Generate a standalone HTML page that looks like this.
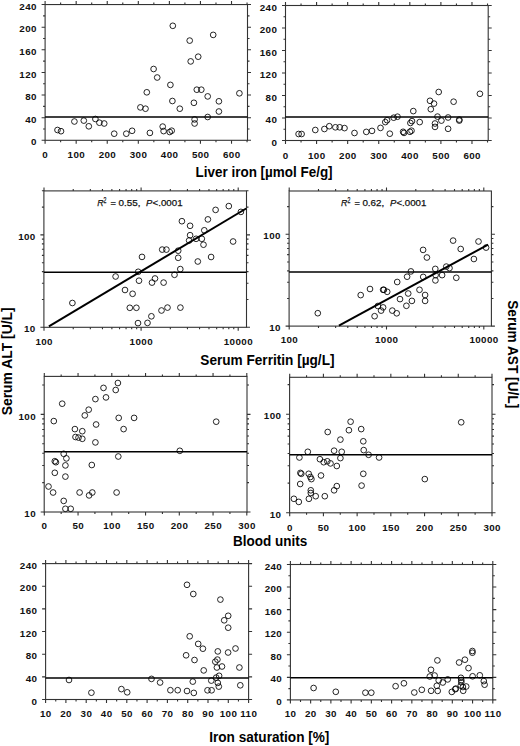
<!DOCTYPE html>
<html><head><meta charset="utf-8"><title>Serum ALT/AST scatter plots</title>
<style>html,body{margin:0;padding:0;background:#fff;}svg{display:block;}text{font-family:"Liberation Sans",sans-serif;}.tl{font-weight:bold;font-size:9.80px;letter-spacing:0.40px;fill:#111;}.tt{font-weight:bold;font-size:14px;fill:#000;}.rr text{font-size:9.8px;fill:#111;stroke:#111;stroke-width:0.25px;}</style></head><body>
<svg width="520" height="746" viewBox="0 0 520 746">
<rect width="520" height="746" fill="#fff"/>
<g><rect x="45.1" y="4.55" width="202.4" height="135.75" fill="none" stroke="#333" stroke-width="1.1"/><path d="M45.1 140.3v3.5M45.1 4.55v-3.5M76.17 140.3v3.5M76.17 4.55v-3.5M107.24 140.3v3.5M107.24 4.55v-3.5M138.31 140.3v3.5M138.31 4.55v-3.5M169.38 140.3v3.5M169.38 4.55v-3.5M200.45 140.3v3.5M200.45 4.55v-3.5M231.52 140.3v3.5M231.52 4.55v-3.5M60.63 140.3v2M60.63 4.55v-2M91.7 140.3v2M91.7 4.55v-2M122.78 140.3v2M122.78 4.55v-2M153.84 140.3v2M153.84 4.55v-2M184.91 140.3v2M184.91 4.55v-2M215.98 140.3v2M215.98 4.55v-2M247.05 140.3v2M247.05 4.55v-2M45.1 140.3h-3.5M247.5 140.3h3.5M45.1 117.68h-3.5M247.5 117.68h3.5M45.1 95.05h-3.5M247.5 95.05h3.5M45.1 72.43h-3.5M247.5 72.43h3.5M45.1 49.8h-3.5M247.5 49.8h3.5M45.1 27.18h-3.5M247.5 27.18h3.5M45.1 4.56h-3.5M247.5 4.56h3.5M45.1 128.99h-2M247.5 128.99h2M45.1 106.36h-2M247.5 106.36h2M45.1 83.74h-2M247.5 83.74h2M45.1 61.12h-2M247.5 61.12h2M45.1 38.49h-2M247.5 38.49h2M45.1 15.87h-2M247.5 15.87h2" stroke="#333" stroke-width="1.1" fill="none"/><text class="tl" x="45.3" y="154.4" text-anchor="middle" dominant-baseline="central">0</text><text class="tl" x="76.37" y="154.4" text-anchor="middle" dominant-baseline="central">100</text><text class="tl" x="107.44" y="154.4" text-anchor="middle" dominant-baseline="central">200</text><text class="tl" x="138.51" y="154.4" text-anchor="middle" dominant-baseline="central">300</text><text class="tl" x="169.58" y="154.4" text-anchor="middle" dominant-baseline="central">400</text><text class="tl" x="200.65" y="154.4" text-anchor="middle" dominant-baseline="central">500</text><text class="tl" x="231.72" y="154.4" text-anchor="middle" dominant-baseline="central">600</text><text class="tl" x="36.9" y="141.9" text-anchor="end" dominant-baseline="central">0</text><text class="tl" x="36.9" y="119.28" text-anchor="end" dominant-baseline="central">40</text><text class="tl" x="36.9" y="96.65" text-anchor="end" dominant-baseline="central">80</text><text class="tl" x="36.9" y="74.03" text-anchor="end" dominant-baseline="central">120</text><text class="tl" x="36.9" y="51.4" text-anchor="end" dominant-baseline="central">160</text><text class="tl" x="36.9" y="28.78" text-anchor="end" dominant-baseline="central">200</text><text class="tl" x="36.9" y="6.16" text-anchor="end" dominant-baseline="central">240</text><path d="M45.1 117H247.5" stroke="#000" stroke-width="1.5"/><g fill="none" stroke="#000" stroke-width="0.85"><circle cx="57.5" cy="130" r="2.85"/><circle cx="61" cy="131.2" r="2.85"/><circle cx="74.4" cy="121.5" r="2.85"/><circle cx="83.8" cy="120.6" r="2.85"/><circle cx="88.8" cy="126.3" r="2.85"/><circle cx="95.4" cy="119" r="2.85"/><circle cx="99.4" cy="122.7" r="2.85"/><circle cx="104.2" cy="123.5" r="2.85"/><circle cx="114.2" cy="133.7" r="2.85"/><circle cx="126.3" cy="133.7" r="2.85"/><circle cx="132.1" cy="130.8" r="2.85"/><circle cx="140.4" cy="107.4" r="2.85"/><circle cx="145.5" cy="108.7" r="2.85"/><circle cx="146.8" cy="92.3" r="2.85"/><circle cx="149.9" cy="132.9" r="2.85"/><circle cx="153.6" cy="69" r="2.85"/><circle cx="157.2" cy="77.5" r="2.85"/><circle cx="170.4" cy="84.9" r="2.85"/><circle cx="172.4" cy="101" r="2.85"/><circle cx="162.7" cy="126.6" r="2.85"/><circle cx="163.6" cy="131.1" r="2.85"/><circle cx="169.7" cy="132" r="2.85"/><circle cx="171.7" cy="130.7" r="2.85"/><circle cx="179.8" cy="108.7" r="2.85"/><circle cx="193.9" cy="102.8" r="2.85"/><circle cx="194.6" cy="119.4" r="2.85"/><circle cx="194.6" cy="123.5" r="2.85"/><circle cx="196.8" cy="89.7" r="2.85"/><circle cx="201.3" cy="89.7" r="2.85"/><circle cx="207.7" cy="96.4" r="2.85"/><circle cx="207.7" cy="117" r="2.85"/><circle cx="218.9" cy="101.3" r="2.85"/><circle cx="218.9" cy="111.5" r="2.85"/><circle cx="239.4" cy="93.3" r="2.85"/><circle cx="172.8" cy="25.8" r="2.85"/><circle cx="213.2" cy="34.9" r="2.85"/><circle cx="189.7" cy="40.6" r="2.85"/><circle cx="198.2" cy="56.7" r="2.85"/><circle cx="190.7" cy="61.4" r="2.85"/></g></g>
<g><rect x="285.5" y="5.5" width="202.7" height="135" fill="none" stroke="#333" stroke-width="1.1"/><path d="M285.5 140.5v3.5M285.5 5.5v-3.5M316.58 140.5v3.5M316.58 5.5v-3.5M347.66 140.5v3.5M347.66 5.5v-3.5M378.74 140.5v3.5M378.74 5.5v-3.5M409.82 140.5v3.5M409.82 5.5v-3.5M440.9 140.5v3.5M440.9 5.5v-3.5M471.98 140.5v3.5M471.98 5.5v-3.5M301.04 140.5v2M301.04 5.5v-2M332.12 140.5v2M332.12 5.5v-2M363.2 140.5v2M363.2 5.5v-2M394.28 140.5v2M394.28 5.5v-2M425.36 140.5v2M425.36 5.5v-2M456.44 140.5v2M456.44 5.5v-2M487.52 140.5v2M487.52 5.5v-2M285.5 140.5h-3.5M488.2 140.5h3.5M285.5 118h-3.5M488.2 118h3.5M285.5 95.5h-3.5M488.2 95.5h3.5M285.5 73h-3.5M488.2 73h3.5M285.5 50.5h-3.5M488.2 50.5h3.5M285.5 28h-3.5M488.2 28h3.5M285.5 5.5h-3.5M488.2 5.5h3.5M285.5 129.25h-2M488.2 129.25h2M285.5 106.75h-2M488.2 106.75h2M285.5 84.25h-2M488.2 84.25h2M285.5 61.75h-2M488.2 61.75h2M285.5 39.25h-2M488.2 39.25h2M285.5 16.75h-2M488.2 16.75h2" stroke="#333" stroke-width="1.1" fill="none"/><text class="tl" x="285.7" y="155.3" text-anchor="middle" dominant-baseline="central">0</text><text class="tl" x="316.78" y="155.3" text-anchor="middle" dominant-baseline="central">100</text><text class="tl" x="347.86" y="155.3" text-anchor="middle" dominant-baseline="central">200</text><text class="tl" x="378.94" y="155.3" text-anchor="middle" dominant-baseline="central">300</text><text class="tl" x="410.02" y="155.3" text-anchor="middle" dominant-baseline="central">400</text><text class="tl" x="441.1" y="155.3" text-anchor="middle" dominant-baseline="central">500</text><text class="tl" x="472.18" y="155.3" text-anchor="middle" dominant-baseline="central">600</text><text class="tl" x="277.3" y="142.1" text-anchor="end" dominant-baseline="central">0</text><text class="tl" x="277.3" y="119.6" text-anchor="end" dominant-baseline="central">40</text><text class="tl" x="277.3" y="97.1" text-anchor="end" dominant-baseline="central">80</text><text class="tl" x="277.3" y="74.6" text-anchor="end" dominant-baseline="central">120</text><text class="tl" x="277.3" y="52.1" text-anchor="end" dominant-baseline="central">160</text><text class="tl" x="277.3" y="29.6" text-anchor="end" dominant-baseline="central">200</text><text class="tl" x="277.3" y="7.1" text-anchor="end" dominant-baseline="central">240</text><path d="M285.5 116.9H488.2" stroke="#000" stroke-width="1.5"/><g fill="none" stroke="#000" stroke-width="0.85"><circle cx="298.6" cy="134" r="2.85"/><circle cx="301.6" cy="134" r="2.85"/><circle cx="315.3" cy="130" r="2.85"/><circle cx="324.4" cy="129" r="2.85"/><circle cx="329.3" cy="126.2" r="2.85"/><circle cx="335.4" cy="127.3" r="2.85"/><circle cx="339.7" cy="127.3" r="2.85"/><circle cx="344.5" cy="128.1" r="2.85"/><circle cx="354.5" cy="133" r="2.85"/><circle cx="366.3" cy="131.9" r="2.85"/><circle cx="372" cy="130.9" r="2.85"/><circle cx="380.5" cy="127.9" r="2.85"/><circle cx="385.3" cy="122.1" r="2.85"/><circle cx="387.1" cy="120.2" r="2.85"/><circle cx="389.8" cy="133.7" r="2.85"/><circle cx="393.7" cy="117.7" r="2.85"/><circle cx="397.5" cy="116.7" r="2.85"/><circle cx="403.1" cy="131.8" r="2.85"/><circle cx="404" cy="132.9" r="2.85"/><circle cx="409.9" cy="131.8" r="2.85"/><circle cx="411.5" cy="130.7" r="2.85"/><circle cx="410.4" cy="123" r="2.85"/><circle cx="412" cy="121.1" r="2.85"/><circle cx="413.3" cy="111.1" r="2.85"/><circle cx="419.7" cy="122.1" r="2.85"/><circle cx="430" cy="100.8" r="2.85"/><circle cx="434" cy="103.6" r="2.85"/><circle cx="430.8" cy="109.2" r="2.85"/><circle cx="438.7" cy="92" r="2.85"/><circle cx="437.5" cy="116.6" r="2.85"/><circle cx="435" cy="123.5" r="2.85"/><circle cx="435" cy="126.9" r="2.85"/><circle cx="441.4" cy="120.6" r="2.85"/><circle cx="448.1" cy="117.5" r="2.85"/><circle cx="448.1" cy="128.8" r="2.85"/><circle cx="453.6" cy="101.7" r="2.85"/><circle cx="459.3" cy="119.6" r="2.85"/><circle cx="459.3" cy="120.6" r="2.85"/><circle cx="479.9" cy="93.8" r="2.85"/></g></g>
<g><rect x="43.9" y="190.9" width="202.6" height="136.4" fill="none" stroke="#333" stroke-width="1.1"/><path d="M44 327.3v3.5M44 190.9v-3.5M141.1 327.3v3.5M141.1 190.9v-3.5M238.2 327.3v3.5M238.2 190.9v-3.5M73.23 327.3v2M73.23 190.9v-2M90.33 327.3v2M90.33 190.9v-2M102.46 327.3v2M102.46 190.9v-2M111.87 327.3v2M111.87 190.9v-2M119.56 327.3v2M119.56 190.9v-2M126.06 327.3v2M126.06 190.9v-2M131.69 327.3v2M131.69 190.9v-2M136.66 327.3v2M136.66 190.9v-2M170.33 327.3v2M170.33 190.9v-2M187.43 327.3v2M187.43 190.9v-2M199.56 327.3v2M199.56 190.9v-2M208.97 327.3v2M208.97 190.9v-2M216.66 327.3v2M216.66 190.9v-2M223.16 327.3v2M223.16 190.9v-2M228.79 327.3v2M228.79 190.9v-2M233.76 327.3v2M233.76 190.9v-2M43.9 327.3h-3.5M246.5 327.3h3.5M43.9 234.9h-3.5M246.5 234.9h3.5M43.9 299.48h-2M246.5 299.48h2M43.9 283.21h-2M246.5 283.21h2M43.9 271.67h-2M246.5 271.67h2M43.9 262.72h-2M246.5 262.72h2M43.9 255.4h-2M246.5 255.4h2M43.9 249.21h-2M246.5 249.21h2M43.9 243.85h-2M246.5 243.85h2M43.9 239.13h-2M246.5 239.13h2M43.9 207.08h-2M246.5 207.08h2M43.9 190.81h-2M246.5 190.81h2" stroke="#333" stroke-width="1.1" fill="none"/><text class="tl" x="44.2" y="341.55" text-anchor="middle" dominant-baseline="central">100</text><text class="tl" x="141.3" y="341.55" text-anchor="middle" dominant-baseline="central">1000</text><text class="tl" x="238.4" y="341.55" text-anchor="middle" dominant-baseline="central">10000</text><text class="tl" x="35.7" y="328.9" text-anchor="end" dominant-baseline="central">10</text><text class="tl" x="35.7" y="236.5" text-anchor="end" dominant-baseline="central">100</text><path d="M43.9 272.2H246.5" stroke="#000" stroke-width="1.5"/><path d="M48.9 326.4L246.2 208.5" stroke="#000" stroke-width="2.0"/><g fill="none" stroke="#000" stroke-width="0.85"><circle cx="142" cy="256.9" r="2.85"/><circle cx="215.6" cy="209.9" r="2.85"/><circle cx="228.8" cy="206.1" r="2.85"/><circle cx="240.9" cy="211.9" r="2.85"/><circle cx="181.9" cy="221.2" r="2.85"/><circle cx="207.9" cy="219.4" r="2.85"/><circle cx="190.1" cy="225.8" r="2.85"/><circle cx="204.3" cy="230.3" r="2.85"/><circle cx="190.1" cy="235.2" r="2.85"/><circle cx="189.1" cy="240.5" r="2.85"/><circle cx="196.1" cy="238.8" r="2.85"/><circle cx="201.8" cy="238.8" r="2.85"/><circle cx="203.5" cy="244.7" r="2.85"/><circle cx="233.1" cy="241.5" r="2.85"/><circle cx="162.2" cy="249.6" r="2.85"/><circle cx="166.4" cy="249.6" r="2.85"/><circle cx="178.2" cy="250.7" r="2.85"/><circle cx="178.2" cy="257.8" r="2.85"/><circle cx="211.1" cy="257" r="2.85"/><circle cx="197.8" cy="261.5" r="2.85"/><circle cx="180.3" cy="269.1" r="2.85"/><circle cx="174.5" cy="274.8" r="2.85"/><circle cx="155" cy="278.5" r="2.85"/><circle cx="152" cy="282.6" r="2.85"/><circle cx="163.6" cy="282.6" r="2.85"/><circle cx="139" cy="280.7" r="2.85"/><circle cx="138.2" cy="271.8" r="2.85"/><circle cx="115.6" cy="276.5" r="2.85"/><circle cx="125" cy="290" r="2.85"/><circle cx="132.6" cy="293.8" r="2.85"/><circle cx="72.4" cy="303" r="2.85"/><circle cx="129.8" cy="307.8" r="2.85"/><circle cx="136.4" cy="307.8" r="2.85"/><circle cx="138" cy="323.1" r="2.85"/><circle cx="147.5" cy="322.9" r="2.85"/><circle cx="151.4" cy="316.3" r="2.85"/><circle cx="161.5" cy="310.5" r="2.85"/><circle cx="167.5" cy="307.6" r="2.85"/><circle cx="180.4" cy="307.6" r="2.85"/></g></g>
<g><rect x="289.1" y="191" width="202.3" height="135.1" fill="none" stroke="#333" stroke-width="1.1"/><path d="M289.2 326.1v3.5M289.2 191v-3.5M386.5 326.1v3.5M386.5 191v-3.5M483.8 326.1v3.5M483.8 191v-3.5M318.49 326.1v2M318.49 191v-2M335.62 326.1v2M335.62 191v-2M347.78 326.1v2M347.78 191v-2M357.21 326.1v2M357.21 191v-2M364.91 326.1v2M364.91 191v-2M371.43 326.1v2M371.43 191v-2M377.07 326.1v2M377.07 191v-2M382.05 326.1v2M382.05 191v-2M415.79 326.1v2M415.79 191v-2M432.92 326.1v2M432.92 191v-2M445.08 326.1v2M445.08 191v-2M454.51 326.1v2M454.51 191v-2M462.21 326.1v2M462.21 191v-2M468.73 326.1v2M468.73 191v-2M474.37 326.1v2M474.37 191v-2M479.35 326.1v2M479.35 191v-2M289.1 326.1h-3.5M491.4 326.1h3.5M289.1 234.3h-3.5M491.4 234.3h3.5M289.1 298.47h-2M491.4 298.47h2M289.1 282.3h-2M491.4 282.3h2M289.1 270.83h-2M491.4 270.83h2M289.1 261.93h-2M491.4 261.93h2M289.1 254.67h-2M491.4 254.67h2M289.1 248.52h-2M491.4 248.52h2M289.1 243.2h-2M491.4 243.2h2M289.1 238.5h-2M491.4 238.5h2M289.1 206.67h-2M491.4 206.67h2" stroke="#333" stroke-width="1.1" fill="none"/><text class="tl" x="289.4" y="339.9" text-anchor="middle" dominant-baseline="central">100</text><text class="tl" x="386.7" y="339.9" text-anchor="middle" dominant-baseline="central">1000</text><text class="tl" x="484" y="339.9" text-anchor="middle" dominant-baseline="central">10000</text><text class="tl" x="280.9" y="327.7" text-anchor="end" dominant-baseline="central">10</text><text class="tl" x="280.9" y="235.9" text-anchor="end" dominant-baseline="central">100</text><path d="M289.1 271.9H491.4" stroke="#000" stroke-width="1.5"/><path d="M338.9 325.7L488.1 244.6" stroke="#000" stroke-width="2.0"/><g fill="none" stroke="#000" stroke-width="0.85"><circle cx="317.8" cy="313.2" r="2.85"/><circle cx="360.7" cy="295.1" r="2.85"/><circle cx="370" cy="289" r="2.85"/><circle cx="383.1" cy="289.8" r="2.85"/><circle cx="383.9" cy="289.8" r="2.85"/><circle cx="387.2" cy="291.8" r="2.85"/><circle cx="377.9" cy="306" r="2.85"/><circle cx="383.1" cy="307.4" r="2.85"/><circle cx="381.1" cy="310.6" r="2.85"/><circle cx="374.6" cy="316.2" r="2.85"/><circle cx="392.3" cy="310.6" r="2.85"/><circle cx="396.7" cy="313.3" r="2.85"/><circle cx="426.9" cy="257.5" r="2.85"/><circle cx="473.9" cy="259" r="2.85"/><circle cx="410.9" cy="271.4" r="2.85"/><circle cx="407.1" cy="276.7" r="2.85"/><circle cx="423.2" cy="276.9" r="2.85"/><circle cx="435.3" cy="268.9" r="2.85"/><circle cx="435.6" cy="275.1" r="2.85"/><circle cx="435.4" cy="280.4" r="2.85"/><circle cx="442.1" cy="275.1" r="2.85"/><circle cx="446.3" cy="266.6" r="2.85"/><circle cx="449.5" cy="268.1" r="2.85"/><circle cx="456.3" cy="277.8" r="2.85"/><circle cx="397.2" cy="282" r="2.85"/><circle cx="419.5" cy="289.8" r="2.85"/><circle cx="408.2" cy="293.5" r="2.85"/><circle cx="425.1" cy="295" r="2.85"/><circle cx="425.1" cy="300.9" r="2.85"/><circle cx="400" cy="299.1" r="2.85"/><circle cx="411.9" cy="300.9" r="2.85"/><circle cx="406.4" cy="305.8" r="2.85"/><circle cx="453.1" cy="240.6" r="2.85"/><circle cx="478.5" cy="241.5" r="2.85"/><circle cx="460.7" cy="249" r="2.85"/><circle cx="486.1" cy="247.6" r="2.85"/><circle cx="423.1" cy="249.9" r="2.85"/></g></g>
<g><rect x="44.2" y="376.4" width="202.8" height="135.6" fill="none" stroke="#333" stroke-width="1.1"/><path d="M44.3 512v3.5M44.3 376.4v-3.5M78.05 512v3.5M78.05 376.4v-3.5M111.8 512v3.5M111.8 376.4v-3.5M145.55 512v3.5M145.55 376.4v-3.5M179.3 512v3.5M179.3 376.4v-3.5M213.05 512v3.5M213.05 376.4v-3.5M246.8 512v3.5M246.8 376.4v-3.5M61.17 512v2M61.17 376.4v-2M94.92 512v2M94.92 376.4v-2M128.68 512v2M128.68 376.4v-2M162.43 512v2M162.43 376.4v-2M196.18 512v2M196.18 376.4v-2M229.93 512v2M229.93 376.4v-2M44.2 512h-3.5M247 512h3.5M44.2 414.4h-3.5M247 414.4h3.5M44.2 482.62h-2M247 482.62h2M44.2 465.43h-2M247 465.43h2M44.2 453.24h-2M247 453.24h2M44.2 443.78h-2M247 443.78h2M44.2 436.05h-2M247 436.05h2M44.2 429.52h-2M247 429.52h2M44.2 423.86h-2M247 423.86h2M44.2 418.87h-2M247 418.87h2M44.2 385.02h-2M247 385.02h2" stroke="#333" stroke-width="1.1" fill="none"/><text class="tl" x="44.5" y="525.65" text-anchor="middle" dominant-baseline="central">0</text><text class="tl" x="78.25" y="525.65" text-anchor="middle" dominant-baseline="central">50</text><text class="tl" x="112" y="525.65" text-anchor="middle" dominant-baseline="central">100</text><text class="tl" x="145.75" y="525.65" text-anchor="middle" dominant-baseline="central">150</text><text class="tl" x="179.5" y="525.65" text-anchor="middle" dominant-baseline="central">200</text><text class="tl" x="213.25" y="525.65" text-anchor="middle" dominant-baseline="central">250</text><text class="tl" x="247" y="525.65" text-anchor="middle" dominant-baseline="central">300</text><text class="tl" x="36" y="513.6" text-anchor="end" dominant-baseline="central">10</text><text class="tl" x="36" y="416" text-anchor="end" dominant-baseline="central">100</text><path d="M44.2 451.8H247" stroke="#000" stroke-width="1.5"/><g fill="none" stroke="#000" stroke-width="0.85"><circle cx="117.9" cy="383" r="2.85"/><circle cx="103.5" cy="387.9" r="2.85"/><circle cx="115.7" cy="390" r="2.85"/><circle cx="106" cy="397.4" r="2.85"/><circle cx="95.4" cy="399.1" r="2.85"/><circle cx="62.2" cy="403.7" r="2.85"/><circle cx="88.7" cy="409.7" r="2.85"/><circle cx="84.8" cy="415.4" r="2.85"/><circle cx="118.7" cy="417.9" r="2.85"/><circle cx="134.1" cy="417.9" r="2.85"/><circle cx="53.8" cy="421.1" r="2.85"/><circle cx="96.1" cy="424.5" r="2.85"/><circle cx="74.9" cy="429.1" r="2.85"/><circle cx="82.3" cy="431.2" r="2.85"/><circle cx="123.6" cy="429.1" r="2.85"/><circle cx="75.5" cy="437" r="2.85"/><circle cx="78.5" cy="437.6" r="2.85"/><circle cx="82.3" cy="438.8" r="2.85"/><circle cx="95.4" cy="442.4" r="2.85"/><circle cx="63.7" cy="453.8" r="2.85"/><circle cx="66.4" cy="458.4" r="2.85"/><circle cx="54.8" cy="461.2" r="2.85"/><circle cx="55.9" cy="462.2" r="2.85"/><circle cx="65.4" cy="465.4" r="2.85"/><circle cx="91.8" cy="465" r="2.85"/><circle cx="118.3" cy="456.5" r="2.85"/><circle cx="54.8" cy="472.8" r="2.85"/><circle cx="65.4" cy="476.6" r="2.85"/><circle cx="48.5" cy="486.5" r="2.85"/><circle cx="53.1" cy="492.5" r="2.85"/><circle cx="79.6" cy="492.5" r="2.85"/><circle cx="89.1" cy="495.4" r="2.85"/><circle cx="92.3" cy="492.5" r="2.85"/><circle cx="116.6" cy="492.5" r="2.85"/><circle cx="63.7" cy="500.9" r="2.85"/><circle cx="65.4" cy="508.8" r="2.85"/><circle cx="70.7" cy="508.8" r="2.85"/><circle cx="216.2" cy="421.7" r="2.85"/><circle cx="179.8" cy="450.8" r="2.85"/></g></g>
<g><rect x="289.6" y="377.3" width="202.4" height="135.5" fill="none" stroke="#333" stroke-width="1.1"/><path d="M289.7 512.8v3.5M289.7 377.3v-3.5M323.41 512.8v3.5M323.41 377.3v-3.5M357.13 512.8v3.5M357.13 377.3v-3.5M390.84 512.8v3.5M390.84 377.3v-3.5M424.56 512.8v3.5M424.56 377.3v-3.5M458.27 512.8v3.5M458.27 377.3v-3.5M491.99 512.8v3.5M491.99 377.3v-3.5M306.56 512.8v2M306.56 377.3v-2M340.27 512.8v2M340.27 377.3v-2M373.99 512.8v2M373.99 377.3v-2M407.7 512.8v2M407.7 377.3v-2M441.42 512.8v2M441.42 377.3v-2M475.13 512.8v2M475.13 377.3v-2M289.6 512.8h-3.5M492 512.8h3.5M289.6 414.3h-3.5M492 414.3h3.5M289.6 483.15h-2M492 483.15h2M289.6 465.8h-2M492 465.8h2M289.6 453.5h-2M492 453.5h2M289.6 443.95h-2M492 443.95h2M289.6 436.15h-2M492 436.15h2M289.6 429.56h-2M492 429.56h2M289.6 423.85h-2M492 423.85h2M289.6 418.81h-2M492 418.81h2M289.6 384.65h-2M492 384.65h2" stroke="#333" stroke-width="1.1" fill="none"/><text class="tl" x="289.9" y="527.2" text-anchor="middle" dominant-baseline="central">0</text><text class="tl" x="323.61" y="527.2" text-anchor="middle" dominant-baseline="central">50</text><text class="tl" x="357.33" y="527.2" text-anchor="middle" dominant-baseline="central">100</text><text class="tl" x="391.04" y="527.2" text-anchor="middle" dominant-baseline="central">150</text><text class="tl" x="424.76" y="527.2" text-anchor="middle" dominant-baseline="central">200</text><text class="tl" x="458.47" y="527.2" text-anchor="middle" dominant-baseline="central">250</text><text class="tl" x="492.19" y="527.2" text-anchor="middle" dominant-baseline="central">300</text><text class="tl" x="281.4" y="514.4" text-anchor="end" dominant-baseline="central">10</text><text class="tl" x="281.4" y="415.9" text-anchor="end" dominant-baseline="central">100</text><path d="M289.6 454.7H492" stroke="#000" stroke-width="1.5"/><g fill="none" stroke="#000" stroke-width="0.85"><circle cx="350.6" cy="421.7" r="2.85"/><circle cx="327.7" cy="432" r="2.85"/><circle cx="348.9" cy="430.2" r="2.85"/><circle cx="361.2" cy="429.1" r="2.85"/><circle cx="340.4" cy="439.6" r="2.85"/><circle cx="363.3" cy="441.3" r="2.85"/><circle cx="307.8" cy="451.8" r="2.85"/><circle cx="334.1" cy="450.7" r="2.85"/><circle cx="341.7" cy="451.8" r="2.85"/><circle cx="363.7" cy="450.1" r="2.85"/><circle cx="368.6" cy="454.8" r="2.85"/><circle cx="379.1" cy="457.5" r="2.85"/><circle cx="299.4" cy="457.5" r="2.85"/><circle cx="340.4" cy="458.1" r="2.85"/><circle cx="319.9" cy="459.2" r="2.85"/><circle cx="323.7" cy="462.2" r="2.85"/><circle cx="327.3" cy="461.3" r="2.85"/><circle cx="330.5" cy="463.4" r="2.85"/><circle cx="336.8" cy="466" r="2.85"/><circle cx="300.4" cy="472.9" r="2.85"/><circle cx="301.3" cy="473.8" r="2.85"/><circle cx="308.7" cy="473.8" r="2.85"/><circle cx="310.4" cy="477" r="2.85"/><circle cx="311.4" cy="479.1" r="2.85"/><circle cx="321" cy="475.5" r="2.85"/><circle cx="363.3" cy="473.8" r="2.85"/><circle cx="300.2" cy="484" r="2.85"/><circle cx="336.8" cy="486.1" r="2.85"/><circle cx="361.6" cy="485.6" r="2.85"/><circle cx="310.8" cy="490.3" r="2.85"/><circle cx="310.8" cy="493" r="2.85"/><circle cx="334.1" cy="490.3" r="2.85"/><circle cx="315.7" cy="496.2" r="2.85"/><circle cx="324.8" cy="496.2" r="2.85"/><circle cx="308.9" cy="498.8" r="2.85"/><circle cx="293.9" cy="498.8" r="2.85"/><circle cx="298.8" cy="501.9" r="2.85"/><circle cx="461.2" cy="422.3" r="2.85"/><circle cx="424.8" cy="479.1" r="2.85"/></g></g>
<g><rect x="45.6" y="563.6" width="203" height="135.9" fill="none" stroke="#333" stroke-width="1.1"/><path d="M45.6 699.5v3.5M45.6 563.6v-3.5M65.9 699.5v3.5M65.9 563.6v-3.5M86.2 699.5v3.5M86.2 563.6v-3.5M106.5 699.5v3.5M106.5 563.6v-3.5M126.8 699.5v3.5M126.8 563.6v-3.5M147.1 699.5v3.5M147.1 563.6v-3.5M167.4 699.5v3.5M167.4 563.6v-3.5M187.7 699.5v3.5M187.7 563.6v-3.5M208 699.5v3.5M208 563.6v-3.5M228.3 699.5v3.5M228.3 563.6v-3.5M248.6 699.5v3.5M248.6 563.6v-3.5M55.75 699.5v2M55.75 563.6v-2M76.05 699.5v2M76.05 563.6v-2M96.35 699.5v2M96.35 563.6v-2M116.65 699.5v2M116.65 563.6v-2M136.95 699.5v2M136.95 563.6v-2M157.25 699.5v2M157.25 563.6v-2M177.55 699.5v2M177.55 563.6v-2M197.85 699.5v2M197.85 563.6v-2M218.15 699.5v2M218.15 563.6v-2M238.45 699.5v2M238.45 563.6v-2M45.6 699.5h-3.5M248.6 699.5h3.5M45.6 676.85h-3.5M248.6 676.85h3.5M45.6 654.2h-3.5M248.6 654.2h3.5M45.6 631.54h-3.5M248.6 631.54h3.5M45.6 608.89h-3.5M248.6 608.89h3.5M45.6 586.24h-3.5M248.6 586.24h3.5M45.6 563.59h-3.5M248.6 563.59h3.5" stroke="#333" stroke-width="1.1" fill="none"/><text class="tl" x="45.8" y="713.65" text-anchor="middle" dominant-baseline="central">10</text><text class="tl" x="66.1" y="713.65" text-anchor="middle" dominant-baseline="central">20</text><text class="tl" x="86.4" y="713.65" text-anchor="middle" dominant-baseline="central">30</text><text class="tl" x="106.7" y="713.65" text-anchor="middle" dominant-baseline="central">40</text><text class="tl" x="127" y="713.65" text-anchor="middle" dominant-baseline="central">50</text><text class="tl" x="147.3" y="713.65" text-anchor="middle" dominant-baseline="central">60</text><text class="tl" x="167.6" y="713.65" text-anchor="middle" dominant-baseline="central">70</text><text class="tl" x="187.9" y="713.65" text-anchor="middle" dominant-baseline="central">80</text><text class="tl" x="208.2" y="713.65" text-anchor="middle" dominant-baseline="central">90</text><text class="tl" x="228.5" y="713.65" text-anchor="middle" dominant-baseline="central">100</text><text class="tl" x="248.8" y="713.65" text-anchor="middle" dominant-baseline="central">110</text><text class="tl" x="37.4" y="701.1" text-anchor="end" dominant-baseline="central">0</text><text class="tl" x="37.4" y="678.45" text-anchor="end" dominant-baseline="central">40</text><text class="tl" x="37.4" y="655.8" text-anchor="end" dominant-baseline="central">80</text><text class="tl" x="37.4" y="633.14" text-anchor="end" dominant-baseline="central">120</text><text class="tl" x="37.4" y="610.49" text-anchor="end" dominant-baseline="central">160</text><text class="tl" x="37.4" y="587.84" text-anchor="end" dominant-baseline="central">200</text><text class="tl" x="37.4" y="565.19" text-anchor="end" dominant-baseline="central">240</text><path d="M45.6 678H248.6" stroke="#000" stroke-width="1.5"/><g fill="none" stroke="#000" stroke-width="0.85"><circle cx="187" cy="584.8" r="2.85"/><circle cx="193.3" cy="594" r="2.85"/><circle cx="220.4" cy="599.6" r="2.85"/><circle cx="228.2" cy="615.8" r="2.85"/><circle cx="224.2" cy="620.3" r="2.85"/><circle cx="228.2" cy="627.7" r="2.85"/><circle cx="189.7" cy="636.3" r="2.85"/><circle cx="198.2" cy="643.9" r="2.85"/><circle cx="202.9" cy="648.7" r="2.85"/><circle cx="235.5" cy="648.5" r="2.85"/><circle cx="217.8" cy="651.4" r="2.85"/><circle cx="228.1" cy="652.5" r="2.85"/><circle cx="194.5" cy="660" r="2.85"/><circle cx="186.1" cy="655.3" r="2.85"/><circle cx="217.4" cy="659.6" r="2.85"/><circle cx="215.3" cy="661.7" r="2.85"/><circle cx="216.9" cy="667.5" r="2.85"/><circle cx="222" cy="666.5" r="2.85"/><circle cx="239.4" cy="667.5" r="2.85"/><circle cx="203.7" cy="670.4" r="2.85"/><circle cx="219.1" cy="675.8" r="2.85"/><circle cx="216.2" cy="677.6" r="2.85"/><circle cx="211.3" cy="680.6" r="2.85"/><circle cx="217.8" cy="682.9" r="2.85"/><circle cx="218.8" cy="686.6" r="2.85"/><circle cx="240.3" cy="685.3" r="2.85"/><circle cx="207.5" cy="690.3" r="2.85"/><circle cx="211.6" cy="690.3" r="2.85"/><circle cx="151.5" cy="678.9" r="2.85"/><circle cx="160.1" cy="682.5" r="2.85"/><circle cx="192.8" cy="681.6" r="2.85"/><circle cx="170.4" cy="690.2" r="2.85"/><circle cx="177.7" cy="690.2" r="2.85"/><circle cx="187" cy="691" r="2.85"/><circle cx="193.8" cy="692.9" r="2.85"/><circle cx="69" cy="680" r="2.85"/><circle cx="91.4" cy="692.7" r="2.85"/><circle cx="121.4" cy="689.1" r="2.85"/><circle cx="127.2" cy="692.3" r="2.85"/></g></g>
<g><rect x="290.4" y="564.5" width="202.4" height="135.4" fill="none" stroke="#333" stroke-width="1.1"/><path d="M290.4 699.9v3.5M290.4 564.5v-3.5M310.64 699.9v3.5M310.64 564.5v-3.5M330.88 699.9v3.5M330.88 564.5v-3.5M351.12 699.9v3.5M351.12 564.5v-3.5M371.36 699.9v3.5M371.36 564.5v-3.5M391.6 699.9v3.5M391.6 564.5v-3.5M411.84 699.9v3.5M411.84 564.5v-3.5M432.08 699.9v3.5M432.08 564.5v-3.5M452.32 699.9v3.5M452.32 564.5v-3.5M472.56 699.9v3.5M472.56 564.5v-3.5M492.8 699.9v3.5M492.8 564.5v-3.5M300.52 699.9v2M300.52 564.5v-2M320.76 699.9v2M320.76 564.5v-2M341 699.9v2M341 564.5v-2M361.24 699.9v2M361.24 564.5v-2M381.48 699.9v2M381.48 564.5v-2M401.72 699.9v2M401.72 564.5v-2M421.96 699.9v2M421.96 564.5v-2M442.2 699.9v2M442.2 564.5v-2M462.44 699.9v2M462.44 564.5v-2M482.68 699.9v2M482.68 564.5v-2M290.4 699.9h-3.5M492.8 699.9h3.5M290.4 677.33h-3.5M492.8 677.33h3.5M290.4 654.76h-3.5M492.8 654.76h3.5M290.4 632.2h-3.5M492.8 632.2h3.5M290.4 609.63h-3.5M492.8 609.63h3.5M290.4 587.06h-3.5M492.8 587.06h3.5M290.4 564.49h-3.5M492.8 564.49h3.5M290.4 688.62h-2M492.8 688.62h2M290.4 666.05h-2M492.8 666.05h2M290.4 643.48h-2M492.8 643.48h2M290.4 620.91h-2M492.8 620.91h2M290.4 598.34h-2M492.8 598.34h2M290.4 575.78h-2M492.8 575.78h2" stroke="#333" stroke-width="1.1" fill="none"/><text class="tl" x="290.6" y="713.55" text-anchor="middle" dominant-baseline="central">10</text><text class="tl" x="310.84" y="713.55" text-anchor="middle" dominant-baseline="central">20</text><text class="tl" x="331.08" y="713.55" text-anchor="middle" dominant-baseline="central">30</text><text class="tl" x="351.32" y="713.55" text-anchor="middle" dominant-baseline="central">40</text><text class="tl" x="371.56" y="713.55" text-anchor="middle" dominant-baseline="central">50</text><text class="tl" x="391.8" y="713.55" text-anchor="middle" dominant-baseline="central">60</text><text class="tl" x="412.04" y="713.55" text-anchor="middle" dominant-baseline="central">70</text><text class="tl" x="432.28" y="713.55" text-anchor="middle" dominant-baseline="central">80</text><text class="tl" x="452.52" y="713.55" text-anchor="middle" dominant-baseline="central">90</text><text class="tl" x="472.76" y="713.55" text-anchor="middle" dominant-baseline="central">100</text><text class="tl" x="493" y="713.55" text-anchor="middle" dominant-baseline="central">110</text><text class="tl" x="282.2" y="701.5" text-anchor="end" dominant-baseline="central">0</text><text class="tl" x="282.2" y="678.93" text-anchor="end" dominant-baseline="central">40</text><text class="tl" x="282.2" y="656.36" text-anchor="end" dominant-baseline="central">80</text><text class="tl" x="282.2" y="633.8" text-anchor="end" dominant-baseline="central">120</text><text class="tl" x="282.2" y="611.23" text-anchor="end" dominant-baseline="central">160</text><text class="tl" x="282.2" y="588.66" text-anchor="end" dominant-baseline="central">200</text><text class="tl" x="282.2" y="566.09" text-anchor="end" dominant-baseline="central">240</text><path d="M290.4 677.7H492.8" stroke="#000" stroke-width="1.5"/><g fill="none" stroke="#000" stroke-width="0.85"><circle cx="313.6" cy="688" r="2.85"/><circle cx="335.8" cy="691.8" r="2.85"/><circle cx="365.4" cy="692.7" r="2.85"/><circle cx="371.3" cy="692.7" r="2.85"/><circle cx="395.6" cy="686.2" r="2.85"/><circle cx="403.9" cy="683.3" r="2.85"/><circle cx="414.3" cy="692.5" r="2.85"/><circle cx="421.8" cy="689.8" r="2.85"/><circle cx="431.1" cy="690.8" r="2.85"/><circle cx="437.4" cy="660.4" r="2.85"/><circle cx="431" cy="669.8" r="2.85"/><circle cx="429.8" cy="676.5" r="2.85"/><circle cx="434.6" cy="675.5" r="2.85"/><circle cx="438.7" cy="680.3" r="2.85"/><circle cx="436.8" cy="685.8" r="2.85"/><circle cx="437.7" cy="690.9" r="2.85"/><circle cx="442.8" cy="682.5" r="2.85"/><circle cx="447.7" cy="679.4" r="2.85"/><circle cx="451.8" cy="691.9" r="2.85"/><circle cx="455.3" cy="689.2" r="2.85"/><circle cx="455.8" cy="688.6" r="2.85"/><circle cx="459.1" cy="662.5" r="2.85"/><circle cx="464.9" cy="659.7" r="2.85"/><circle cx="468.5" cy="668.1" r="2.85"/><circle cx="472.4" cy="651" r="2.85"/><circle cx="472.4" cy="652.7" r="2.85"/><circle cx="472.6" cy="676.3" r="2.85"/><circle cx="479.8" cy="675.3" r="2.85"/><circle cx="483.8" cy="681.1" r="2.85"/><circle cx="484.6" cy="684.7" r="2.85"/><circle cx="460.9" cy="677.8" r="2.85"/><circle cx="461.3" cy="680.2" r="2.85"/><circle cx="461.3" cy="682.2" r="2.85"/><circle cx="460.8" cy="685.6" r="2.85"/><circle cx="462.9" cy="687" r="2.85"/><circle cx="466.2" cy="686.5" r="2.85"/><circle cx="463.2" cy="690.8" r="2.85"/></g></g>
<text class="tt" x="195.6" y="176.5" textLength="137.0" lengthAdjust="spacingAndGlyphs">Liver iron [µmol Fe/g]</text>
<text class="tt" x="200.3" y="364.9" textLength="134.2" lengthAdjust="spacingAndGlyphs">Serum Ferritin [µg/L]</text>
<text class="tt" x="233.0" y="545.8" textLength="74.2" lengthAdjust="spacingAndGlyphs">Blood units</text>
<text class="tt" x="209.2" y="741.6" textLength="120.2" lengthAdjust="spacingAndGlyphs">Iron saturation [%]</text>
<text class="tt" transform="translate(12.1 415.3) rotate(-90)" textLength="108.0" lengthAdjust="spacingAndGlyphs">Serum ALT [U/L]</text>
<text class="tt" transform="translate(507.6 300.2) rotate(90)" textLength="108.0" lengthAdjust="spacingAndGlyphs">Serum AST [U/L]</text>
<g class="rr" transform="translate(0 0)">
<text x="97.3" y="205.9" textLength="6.4" lengthAdjust="spacingAndGlyphs" font-style="italic">R</text>
<text x="103.6" y="202.6" textLength="2.9" lengthAdjust="spacingAndGlyphs" font-size="4.6px">2</text>
<text x="110.6" y="205.9" textLength="5.4" lengthAdjust="spacingAndGlyphs">=</text>
<text x="118.6" y="205.9" textLength="21.9" lengthAdjust="spacingAndGlyphs">0.55,</text>
<text x="146.1" y="205.9" textLength="6.3" lengthAdjust="spacingAndGlyphs" font-style="italic">P</text>
<text x="152.6" y="205.9" textLength="30.0" lengthAdjust="spacingAndGlyphs">&lt;.0001</text>
</g>
<g class="rr" transform="translate(243.8 0.3)">
<text x="97.3" y="205.9" textLength="6.4" lengthAdjust="spacingAndGlyphs" font-style="italic">R</text>
<text x="103.6" y="202.6" textLength="2.9" lengthAdjust="spacingAndGlyphs" font-size="4.6px">2</text>
<text x="110.6" y="205.9" textLength="5.4" lengthAdjust="spacingAndGlyphs">=</text>
<text x="118.6" y="205.9" textLength="21.9" lengthAdjust="spacingAndGlyphs">0.62,</text>
<text x="146.1" y="205.9" textLength="6.3" lengthAdjust="spacingAndGlyphs" font-style="italic">P</text>
<text x="152.6" y="205.9" textLength="30.0" lengthAdjust="spacingAndGlyphs">&lt;.0001</text>
</g>
</svg></body></html>
